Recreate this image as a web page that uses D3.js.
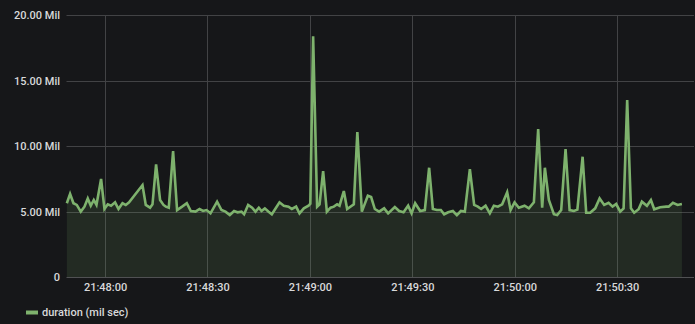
<!DOCTYPE html>
<html>
<head>
<meta charset="utf-8">
<script src="https://cdn.jsdelivr.net/npm/d3@7"></script>
<style>
  html, body { margin: 0; padding: 0; background: #161719; }
  svg { display: block; }
</style>
</head>
<body>
<svg id="chart" width="695" height="324"></svg>
<script>
// ---- data ----
// seconds relative to 21:48:00
const timeOffsets = [
  -11.2, -10.25, -9.26, -8.29, -7.12, -6.04, -5.07, -4.19, -3.31, -2.52,
  -1.17, -0.18, 0.79, 1.76, 2.93, 3.93, 5.10, 6.06, 7.03, 10.96,
  11.92, 13.18, 13.89, 14.94, 16.11, 17.11, 17.8, 18.66, 19.92, 21.09,
  22.56, 23.94, 25.11, 26.49, 27.66, 28.71, 29.71, 30.88, 32.81, 34.10,
  35.27, 36.53, 37.79, 38.79, 39.96, 40.72, 41.90, 43.07, 44.06, 45.03,
  45.82, 46.79, 47.81, 48.84, 51.09, 52.35, 53.73, 54.70, 55.96, 56.95,
  58.21, 59.59, 60.12, 60.94, 62.11, 62.82, 63.87, 64.96, 66.04, 67.0,
  67.97, 68.67, 69.93, 70.90, 72.86, 73.89, 75.21, 76.96, 77.93, 79.01,
  80.27, 81.74, 82.91, 84.87, 86.13, 87.42, 88.77, 89.77, 90.82, 92.29,
  93.66, 94.92, 96.01, 97.18, 98.35, 99.32, 100.49, 101.87, 103.04, 104.21,
  105.38, 106.85, 108.11, 109.19, 110.16, 111.45, 112.71, 113.88, 115.05, 116.31,
  117.78, 118.77, 119.94, 121.2, 122.87, 124.13, 125.6, 126.86, 128.03, 128.82,
  129.99, 131.46, 132.42, 133.6, 134.88, 136.06, 137.32, 138.34, 139.87, 140.92,
  142.09, 143.56, 144.85, 146.19, 147.48, 148.65, 149.71, 150.88, 151.88, 152.93,
  154.02, 154.98, 156.27, 157.24, 158.71, 159.88, 160.85, 162.6, 164.36, 165.07,
  166.33, 167.7, 168.96
];
// duration in millions
const durationMil = [
  5.63, 6.34, 5.63, 5.5, 4.99, 5.37, 6.0, 5.44, 5.88, 5.5,
  7.48, 5.19, 5.55, 5.44, 5.7, 5.19, 5.63, 5.5, 5.7, 7.02,
  5.5, 5.29, 5.55, 8.6, 5.88, 5.5, 5.37, 5.29, 9.62, 5.11,
  5.37, 5.63, 5.04, 4.99, 5.19, 5.04, 5.11, 4.86, 5.75, 5.11,
  4.99, 4.73, 5.04, 4.94, 4.99, 4.79, 5.5, 5.29, 4.99, 5.29,
  5.04, 5.24, 5.0, 4.79, 5.7, 5.44, 5.37, 5.19, 5.37, 4.86,
  5.24, 5.44, 5.6, 18.37, 5.37, 5.55, 8.09, 4.99, 5.29, 5.37,
  5.55, 5.44, 6.56, 5.19, 5.55, 11.07, 4.99, 6.2, 6.1, 5.19,
  4.99, 5.24, 4.86, 5.34, 5.04, 4.94, 5.44, 4.86, 5.63, 5.04,
  5.11, 8.34, 5.19, 5.11, 5.11, 4.79, 4.94, 5.04, 4.73, 5.04,
  4.99, 8.24, 5.5, 5.37, 5.19, 5.44, 4.86, 5.44, 5.37, 5.55,
  6.47, 5.11, 5.7, 5.29, 5.44, 5.24, 5.7, 11.3, 5.29, 8.34,
  5.88, 4.79, 4.73, 5.11, 9.77, 5.11, 5.04, 5.14, 9.18, 4.91,
  4.91, 5.24, 6.0, 5.5, 5.67, 5.37, 5.57, 4.99, 5.24, 13.51,
  5.24, 4.91, 5.17, 5.75, 5.44, 5.88, 5.17, 5.32, 5.37, 5.37,
  5.67, 5.5, 5.57
];
const yTicks = [0, 5, 10, 15, 20];
const xTickOffsets = [0, 30, 60, 90, 120, 150];
const seriesName = "duration (mil sec)";
const timeRange = [-11.3, 172.5]; // seconds relative to 21:48:00

// ---- build ----
(function () {
const base = new Date(2020, 0, 1, 21, 48, 0).getTime();
const toDate = s => new Date(base + s * 1000);
const data = timeOffsets.map((t, i) => ({ t: toDate(t), v: durationMil[i] }));

const svg = d3.select("#chart");
const pLeft = 66.5, pRight = 694, pTop = 15, pBottom = 277;

const x = d3.scaleTime().domain(timeRange.map(toDate)).range([pLeft, pRight]);
const y = d3.scaleLinear().domain([0, 20]).range([pBottom, pTop]);

const gridColor = "#424345";
const textColor = "#d8d9da";
const font = "Roboto, 'Helvetica Neue', Arial, sans-serif";

// grid
const grid = svg.append("g");
grid.selectAll("line.h").data(yTicks).join("line")
  .attr("x1", pLeft).attr("x2", pRight)
  .attr("y1", d => Math.round(y(d)) + 0.5).attr("y2", d => Math.round(y(d)) + 0.5)
  .attr("stroke", d => d === 0 ? "#505153" : gridColor).attr("stroke-width", 1);
grid.selectAll("line.v").data(xTickOffsets).join("line")
  .attr("x1", d => Math.round(x(toDate(d))) + 0.5).attr("x2", d => Math.round(x(toDate(d))) + 0.5)
  .attr("y1", pTop).attr("y2", pBottom)
  .attr("stroke", gridColor).attr("stroke-width", 1);

// area + line
const area = d3.area().x(d => x(d.t)).y0(y(0)).y1(d => y(d.v));
const line = d3.line().x(d => x(d.t)).y(d => y(d.v));
svg.append("path").datum(data).attr("d", area)
  .attr("fill", "#7eb26d").attr("fill-opacity", 0.13);
svg.append("path").datum(data).attr("d", line)
  .attr("fill", "none").attr("stroke", "#7eb26d").attr("stroke-width", 2.6)
  .attr("stroke-linejoin", "miter");

// y axis
const yAxis = d3.axisLeft(y).tickValues(yTicks).tickSize(0).tickPadding(0)
  .tickFormat(d => d === 0 ? "0" : d3.format(".2f")(d) + " Mil");
const ga = svg.append("g").attr("transform", `translate(60,0)`).call(yAxis);
ga.select(".domain").remove();
ga.selectAll("text").attr("fill", textColor).style("font-family", font)
  .style("font-size", "11px").style("font-weight", 500);

// x axis
const xAxis = d3.axisBottom(x).tickValues(xTickOffsets.map(toDate)).tickSize(0).tickPadding(0)
  .tickFormat(d3.timeFormat("%H:%M:%S"));
const gx = svg.append("g").attr("transform", `translate(0,${pBottom + 6})`).call(xAxis);
gx.select(".domain").remove();
gx.selectAll("text").attr("fill", textColor).style("font-family", font)
  .style("font-size", "11px").style("font-weight", 500);

// legend
const lg = svg.append("g").attr("transform", "translate(26,312.5)");
lg.append("rect").attr("x", 0).attr("y", -2).attr("width", 12).attr("height", 4).attr("fill", "#7eb26d");
lg.append("text").attr("x", 16).attr("y", 0).attr("dy", "0.35em")
  .attr("fill", textColor).style("font-family", font)
  .style("font-size", "11px").style("font-weight", 500)
  .text(seriesName);
})();
</script>
</body>
</html>
